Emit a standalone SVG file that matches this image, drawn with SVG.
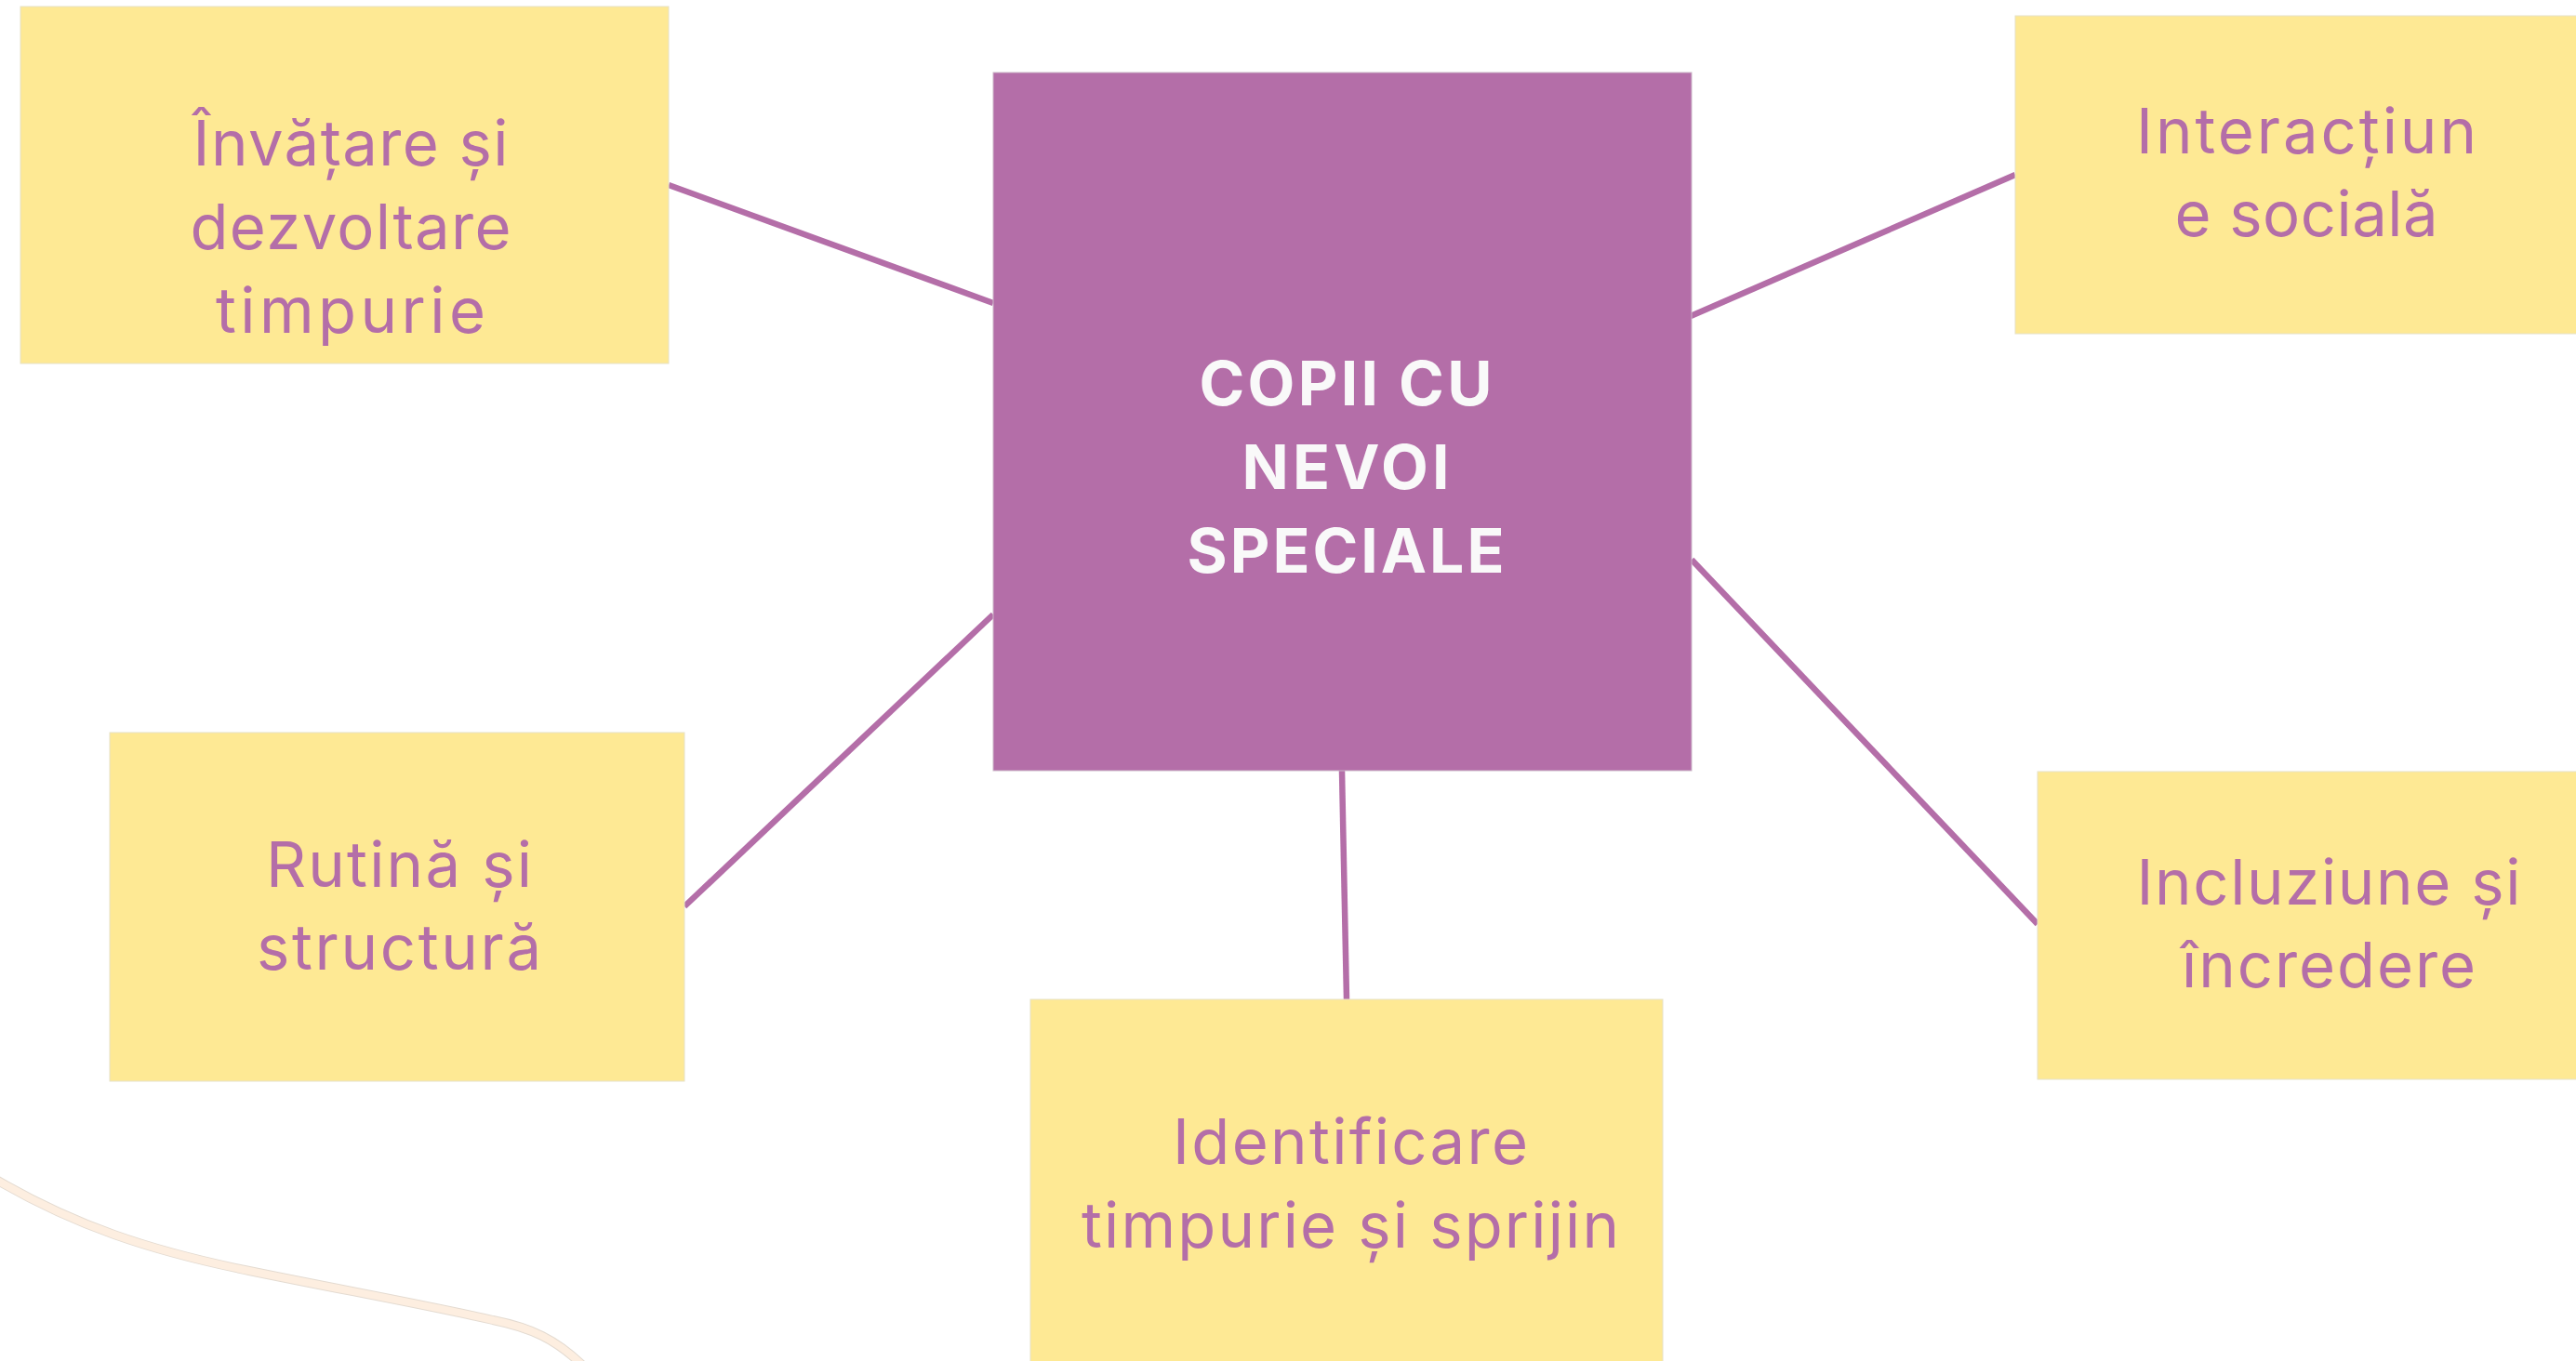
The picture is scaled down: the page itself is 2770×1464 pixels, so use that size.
<svg xmlns="http://www.w3.org/2000/svg" width="2770" height="1464" viewBox="0 0 2770 1464">
  <style>
    .bg { fill: #ffffff; }
    .leaf { fill: #fee994; stroke: #e6e1c8; stroke-width: 1; }
    .root { fill: #b46ea8; stroke: #cbb7c8; stroke-width: 1; }
    .conn { stroke: #b46ea8; stroke-width: 6.5; fill: none; }
    .lt { font-family: Inter, "Open Sans", "Liberation Sans", sans-serif; font-size: 67px; fill: #b46ea8; text-anchor: middle; }
    .rt { font-family: Inter, "Open Sans", "Liberation Sans", sans-serif; font-size: 66px; font-weight: 700; fill: #f9f9f9; text-anchor: middle; }
    .deco-edge { fill: none; stroke: #e4dbd1; stroke-width: 10; }
    .deco { fill: none; stroke: #fdeee0; stroke-width: 8; }
  </style>
  <rect class="bg" x="0" y="0" width="2770" height="1464"/>

  <g id="decoration">
    <path class="deco-edge" d="M -4,1269 C 80,1318 160,1345 268,1367 C 360,1386 460,1404 530,1420 C 570,1428 598,1440 630,1472"/>
    <path class="deco" d="M -4,1269 C 80,1318 160,1345 268,1367 C 360,1386 460,1404 530,1420 C 570,1428 598,1440 630,1472"/>
  </g>

  <g id="connectors">
    <line class="conn" x1="719" y1="199" x2="1068" y2="326"/>
    <line class="conn" x1="1818" y1="340" x2="2167" y2="188"/>
    <line class="conn" x1="1068" y1="661" x2="736" y2="975"/>
    <line class="conn" x1="1443" y1="829" x2="1448" y2="1075"/>
    <line class="conn" x1="1819" y1="602" x2="2191" y2="994"/>
  </g>

  <g id="node-center">
    <rect class="root" x="1068" y="78" width="751" height="751"/>
    <text class="rt" x="1447" y="436" textLength="315" lengthAdjust="spacing">COPII CU</text>
    <text class="rt" x="1447" y="526" textLength="223" lengthAdjust="spacing">NEVOI</text>
    <text class="rt" x="1447" y="616" textLength="341" lengthAdjust="spacing">SPECIALE</text>
  </g>

  <g id="node-invatare">
    <rect class="leaf" x="22" y="7" width="697" height="384"/>
    <text class="lt" x="377" y="178" textLength="339" lengthAdjust="spacing">Învățare și</text>
    <text class="lt" x="377" y="268" textLength="345" lengthAdjust="spacing">dezvoltare</text>
    <text class="lt" x="377" y="358" textLength="290" lengthAdjust="spacing">timpurie</text>
  </g>

  <g id="node-interactiune">
    <rect class="leaf" x="2167" y="17" width="700" height="342"/>
    <text class="lt" x="2480" y="165" textLength="366" lengthAdjust="spacing">Interacțiun</text>
    <text class="lt" x="2480" y="254" textLength="283" lengthAdjust="spacing">e socială</text>
  </g>

  <g id="node-rutina">
    <rect class="leaf" x="118" y="788" width="618" height="375"/>
    <text class="lt" x="429" y="954" textLength="286" lengthAdjust="spacing">Rutină și</text>
    <text class="lt" x="429" y="1043" textLength="306" lengthAdjust="spacing">structură</text>
  </g>

  <g id="node-identificare">
    <rect class="leaf" x="1108" y="1075" width="680" height="400"/>
    <text class="lt" x="1452" y="1252" textLength="382" lengthAdjust="spacing">Identificare</text>
    <text class="lt" x="1452" y="1342" textLength="578" lengthAdjust="spacing">timpurie și sprijin</text>
  </g>

  <g id="node-incluziune">
    <rect class="leaf" x="2191" y="830" width="700" height="331"/>
    <text class="lt" x="2504" y="973" textLength="413" lengthAdjust="spacing">Incluziune și</text>
    <text class="lt" x="2504" y="1062" textLength="316" lengthAdjust="spacing">încredere</text>
  </g>
</svg>
